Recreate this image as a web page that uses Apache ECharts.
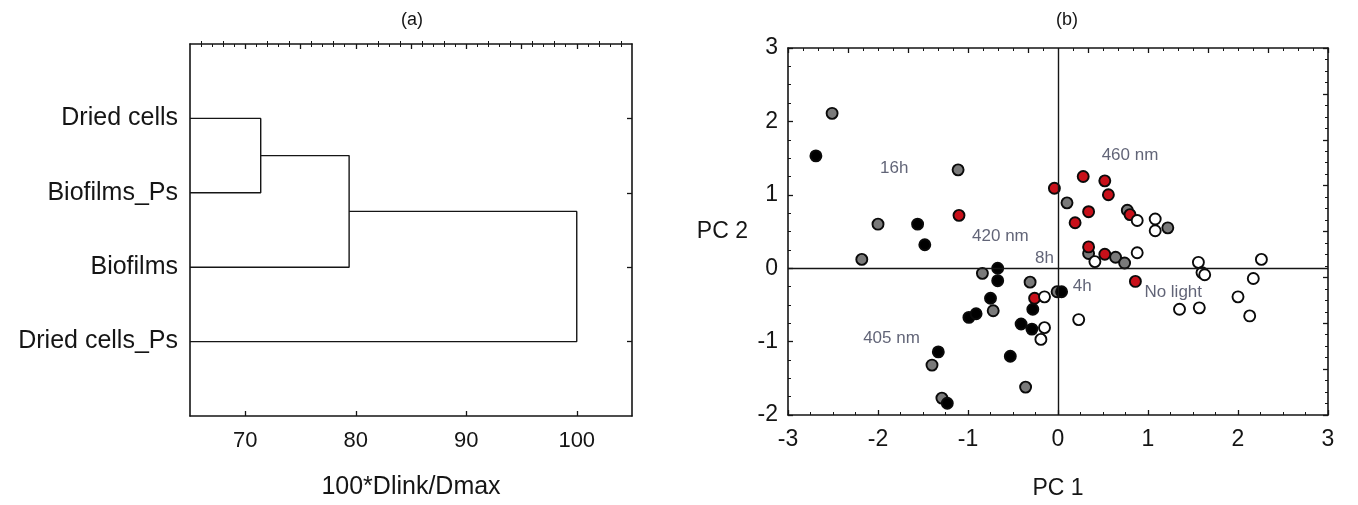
<!DOCTYPE html>
<html>
<head>
<meta charset="utf-8">
<title>Dendrogram and PCA</title>
<script src="https://cdn.jsdelivr.net/npm/echarts@6/dist/echarts.min.js"></script>
<style>
  html, body { margin: 0; padding: 0; background: #fff; }
  #chart { width: 1358px; height: 505px; }
</style>
</head>
<body>
<div id="chart"></div>
<script>
// ---- panel (a): cluster tree ----
const leafNames = ["Dried cells", "Biofilms_Ps", "Biofilms", "Dried cells_Ps"];
const linkHeights = [71.4, 79.4, 100]; // 100*Dlink/Dmax of each join
const distTicks = [70, 80, 90, 100];

// ---- panel (b): PCA scores [PC1, PC2] ----
const grayPts = [
  [-2.51, 2.11], [-1.11, 1.34], [-2.0, 0.60], [-2.18, 0.12], [0.10, 0.89],
  [0.77, 0.79], [1.22, 0.55], [0.34, 0.20], [0.64, 0.15], [0.74, 0.07],
  [-0.84, -0.07], [-0.31, -0.19], [-0.72, -0.58], [-0.01, -0.32],
  [-1.40, -1.32], [-0.36, -1.62], [-1.29, -1.77]
];
const blackPts = [
  [-2.69, 1.53], [-1.56, 0.60], [-1.48, 0.32], [-0.67, 0.0], [-0.67, -0.17],
  [-0.75, -0.41], [-0.99, -0.67], [-0.91, -0.62], [-0.41, -0.76], [-0.29, -0.83],
  [-0.28, -0.56], [0.04, -0.32], [-1.33, -1.14], [-0.53, -1.20], [-1.23, -1.84]
];
const redPts = [
  [-1.10, 0.72], [-0.04, 1.09], [0.28, 1.25], [0.52, 1.19], [0.56, 1.0],
  [0.34, 0.77], [0.19, 0.62], [0.80, 0.73], [0.34, 0.29], [0.52, 0.19],
  [0.86, -0.18], [-0.26, -0.41]
];
const whitePts = [
  [0.88, 0.65], [1.08, 0.67], [1.08, 0.51], [0.88, 0.21], [0.41, 0.09],
  [1.56, 0.08], [1.60, -0.06], [1.63, -0.09], [2.26, 0.12], [2.17, -0.14],
  [2.0, -0.39], [2.13, -0.65], [1.35, -0.56], [1.57, -0.54], [0.23, -0.70],
  [-0.15, -0.39], [-0.15, -0.81], [-0.19, -0.97]
];
const groupNotes = [
  [0.80, 1.54, "460 nm"], [-1.82, 1.36, "16h"], [-0.64, 0.43, "420 nm"],
  [-0.15, 0.14, "8h"], [0.27, -0.24, "4h"], [1.28, -0.33, "No light"],
  [-1.85, -0.95, "405 nm"]
];

const FONT = "'Liberation Sans', Arial, sans-serif";
const INK = "#151515";

// build the tree links: each join connects the previous node to the next leaf
function treeSegments() {
  const base = 65;
  const segs = [];
  let nodeX = base, nodeY = 1;
  for (let i = 0; i < linkHeights.length; i++) {
    const h = linkHeights[i];
    const leafY = i + 2;
    segs.push([[nodeX, nodeY], [h, nodeY], [h, leafY], [base, leafY]]);
    nodeX = h;
    nodeY = (nodeY + leafY) / 2;
  }
  return segs;
}

function range(a, b, step, skip) {
  const out = [];
  for (let v = a; v <= b + 1e-9; v += step) {
    const r = +v.toFixed(4);
    if (!skip || skip.indexOf(r) < 0) out.push(r);
  }
  return out;
}

const tickLine = { show: true, inside: true, length: 5, lineStyle: { color: INK, width: 1.3 } };
const minorLine = { show: true, length: 3, lineStyle: { color: INK, width: 1 } };
const axisLineStyle = { show: true, onZero: false, lineStyle: { color: INK, width: 1.6 } };
const labelFont = { color: INK, fontFamily: FONT, fontSize: 22 };

let chart = echarts.init(document.getElementById("chart"));

const treeSeries = treeSegments().map(function (seg) {
  return {
    type: "line", xAxisIndex: 0, yAxisIndex: 0, data: seg,
    symbol: "none", lineStyle: { color: INK, width: 1.4 }, silent: true, animation: false
  };
});

function dots(pts, fill) {
  return {
    type: "scatter", xAxisIndex: 4, yAxisIndex: 4, data: pts,
    symbol: "circle", symbolSize: 11,
    itemStyle: { color: fill, borderColor: "#0a0a0a", borderWidth: 1.9, opacity: 1 },
    animation: false
  };
}

const topMajor = range(70, 100, 5);

let options = {
  backgroundColor: "#fff",
  textStyle: { fontFamily: FONT },
  title: [
    { text: "(a)", left: 407, top: 6, textAlign: "center",
      textStyle: { fontFamily: FONT, fontSize: 18, fontWeight: "normal", color: INK } },
    { text: "(b)", left: 1062, top: 6, textAlign: "center",
      textStyle: { fontFamily: FONT, fontSize: 18, fontWeight: "normal", color: INK } }
  ],
  grid: [
    { left: 190, top: 44, width: 442, height: 374 },
    { left: 788, top: 48, width: 540, height: 370 }
  ],
  xAxis: [
    // 0: tree, bottom major + labels
    { gridIndex: 0, type: "value", position: "bottom", min: 65, max: 105,
      name: "100*Dlink/Dmax", nameLocation: "middle", nameGap: 59,
      nameTextStyle: { color: INK, fontFamily: FONT, fontSize: 25 },
      axisLine: axisLineStyle, splitLine: { show: false },
      axisTick: Object.assign({ customValues: distTicks }, tickLine),
      axisLabel: Object.assign({ customValues: distTicks, margin: 14 }, labelFont) },
    // 1: tree, bottom minor ticks
    { gridIndex: 0, type: "value", position: "bottom", min: 65, max: 105,
      axisLine: { show: false }, splitLine: { show: false }, axisLabel: { show: false },
      axisTick: { show: true, inside: true, length: 3, customValues: range(66, 104, 2, distTicks),
        lineStyle: { color: INK, width: 1 } } },
    // 2: tree, top mirror
    { gridIndex: 0, type: "value", position: "top", min: 65, max: 105,
      axisLine: axisLineStyle, splitLine: { show: false }, axisLabel: { show: false },
      axisTick: Object.assign({ customValues: topMajor }, tickLine) },
    // 3: tree, top minor ticks
    { gridIndex: 0, type: "value", position: "top", min: 65, max: 105,
      axisLine: { show: false }, splitLine: { show: false }, axisLabel: { show: false },
      axisTick: { show: true, inside: true, length: 3, customValues: range(66, 104, 1, topMajor),
        lineStyle: { color: INK, width: 1 } } },
    // 4: PC1
    { gridIndex: 1, type: "value", position: "bottom", min: -3, max: 3, interval: 1,
      name: "PC 1", nameLocation: "middle", nameGap: 62,
      nameTextStyle: { color: INK, fontFamily: FONT, fontSize: 23 },
      axisLine: axisLineStyle, splitLine: { show: false },
      axisTick: tickLine, minorTick: Object.assign({ splitNumber: 4 }, minorLine),
      axisLabel: Object.assign({ margin: 13 }, labelFont, { fontSize: 23 }) },
    // 5: PC1 top mirror
    { gridIndex: 1, type: "value", position: "top", min: 0, max: 9, interval: 1,
      axisLine: axisLineStyle, splitLine: { show: false }, axisLabel: { show: false },
      axisTick: tickLine, minorTick: Object.assign({ splitNumber: 4 }, minorLine) }
  ],
  yAxis: [
    // 0: tree leaves
    { gridIndex: 0, type: "value", position: "left", min: 0, max: 5, interval: 1, inverse: true,
      axisLine: axisLineStyle, splitLine: { show: false }, axisTick: { show: false },
      axisLabel: Object.assign({
        margin: 12,
        formatter: function (v) { return leafNames[v - 1] || ""; }
      }, labelFont, { fontSize: 25 }) },
    // 1: tree right side ticks
    { gridIndex: 0, type: "value", position: "right", min: 0, max: 5, inverse: true,
      axisLine: axisLineStyle, splitLine: { show: false }, axisLabel: { show: false },
      axisTick: Object.assign({ customValues: [1, 2, 3, 4] }, tickLine) },
    // 2,3: unused spacers keep indices aligned with xAxis
    { gridIndex: 0, type: "value", show: false, min: 0, max: 5 },
    { gridIndex: 0, type: "value", show: false, min: 0, max: 5 },
    // 4: PC2
    { gridIndex: 1, type: "value", position: "left", min: -2, max: 3, interval: 1,
      name: "PC 2", nameLocation: "middle", nameGap: 40, nameRotate: 0,
      nameTextStyle: { color: INK, fontFamily: FONT, fontSize: 23 },
      axisLine: axisLineStyle, splitLine: { show: false },
      axisTick: tickLine, minorTick: Object.assign({ splitNumber: 4 }, minorLine),
      axisLabel: Object.assign({ margin: 10 }, labelFont, { fontSize: 23 }) },
    // 5: PC2 right mirror
    { gridIndex: 1, type: "value", position: "right", min: 0, max: 8, interval: 1,
      axisLine: axisLineStyle, splitLine: { show: false }, axisLabel: { show: false },
      axisTick: tickLine, minorTick: Object.assign({ splitNumber: 4 }, minorLine) }
  ],
  series: treeSeries.concat([
    {
      type: "scatter", xAxisIndex: 4, yAxisIndex: 4, data: [], silent: true,
      markLine: {
        silent: true, symbol: "none", animation: false,
        label: { show: false },
        lineStyle: { color: INK, width: 1.4, type: "solid" },
        data: [{ xAxis: 0 }, { yAxis: 0 }]
      }
    },
    dots(grayPts, "#7a7a7a"),
    dots(blackPts, "#000000"),
    dots(redPts, "#c8101a"),
    dots(whitePts, "#ffffff"),
    {
      type: "scatter", xAxisIndex: 4, yAxisIndex: 4, symbolSize: 0, silent: true,
      data: groupNotes.map(function (d) { return { value: [d[0], d[1]], name: d[2] }; }),
      label: { show: true, position: "inside", formatter: "{b}",
        color: "#3a3d55", fontFamily: FONT, fontSize: 17 },
      animation: false
    }
  ])
};

chart.setOption(options, true);
</script>
</body>
</html>
